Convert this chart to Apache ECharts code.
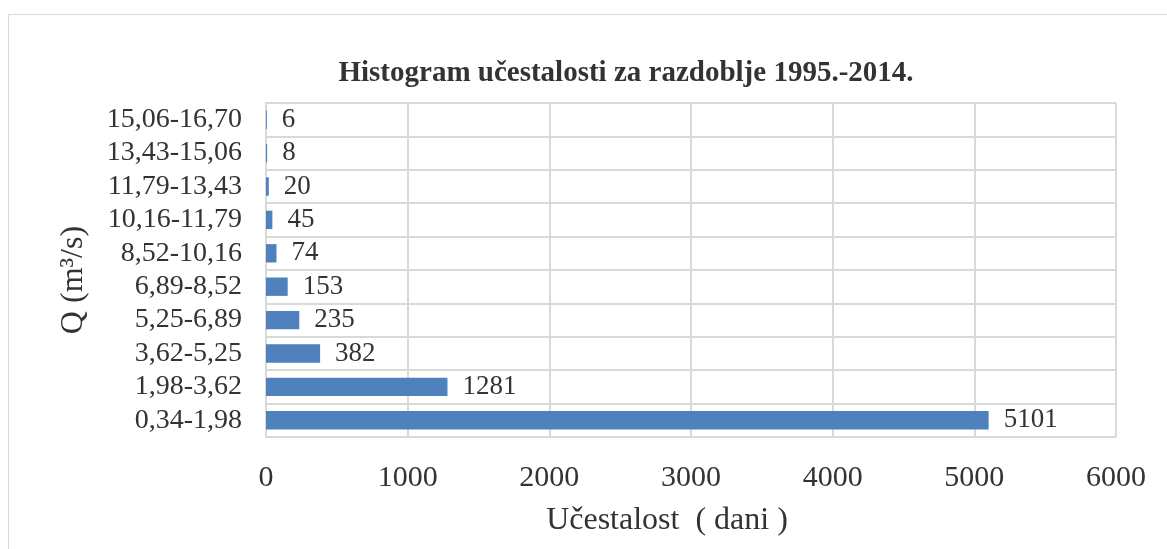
<!DOCTYPE html>
<html>
<head>
<meta charset="utf-8">
<script src="https://cdn.jsdelivr.net/npm/echarts@6/dist/echarts.min.js"></script>
<style>
  html, body { margin: 0; padding: 0; background: #fff; }
  #chart { width: 1167px; height: 549px; }
</style>
</head>
<body>
<div id="chart"></div>
<script>
  // histogram classes (bottom to top)
  var classes = ['0,34-1,98', '1,98-3,62', '3,62-5,25', '5,25-6,89', '6,89-8,52',
                 '8,52-10,16', '10,16-11,79', '11,79-13,43', '13,43-15,06', '15,06-16,70'];
  var days = [5101, 1281, 382, 235, 153, 74, 45, 20, 8, 6];

  var font = '"Liberation Serif", "Times New Roman", serif';
  var textColor = '#333333';
  var gridColor = '#d9d9d9';

  var chart = echarts.init(document.getElementById('chart'));

  chart.setOption({
    animation: false,
    textStyle: { fontFamily: font },
    title: {
      text: 'Histogram učestalosti za razdoblje 1995.-2014.',
      left: 621,
      top: 54,
      textAlign: 'center',
      textStyle: { fontFamily: font, fontSize: 29, fontWeight: 'bold', color: '#333333' }
    },
    graphic: [{
      type: 'rect',
      shape: { x: 8.5, y: 14.5, width: 1200, height: 600 },
      style: { fill: 'none', stroke: '#d9d9d9', lineWidth: 1 },
      silent: true
    }],
    grid: { left: 266, right: 51, top: 103, bottom: 112 },
    xAxis: {
      type: 'value',
      min: 0,
      max: 6000,
      interval: 1000,
      name: 'Učestalost  ( dani )',
      nameLocation: 'middle',
      nameGap: 68,
      nameTextStyle: { fontFamily: font, fontSize: 32, color: textColor, padding: [0, 48, 0, 0] },
      axisLine: { show: false },
      axisTick: { show: false },
      axisLabel: {
        margin: 26, fontSize: 30, color: textColor, fontFamily: font,
        formatter: function (v) { return String(v); }
      },
      splitLine: { lineStyle: { color: gridColor, width: 2 } }
    },
    yAxis: {
      type: 'category',
      data: classes,
      name: 'Q (m³/s)',
      nameLocation: 'middle',
      nameRotate: 90,
      nameGap: 176,
      nameTextStyle: { fontFamily: font, fontSize: 32, color: textColor, padding: [0, 20, 0, 0] },
      axisLine: { show: true, lineStyle: { color: gridColor, width: 2 } },
      axisTick: { show: false },
      axisLabel: { interval: 0, margin: 24, fontSize: 28, color: textColor, fontFamily: font },
      splitLine: { show: true, interval: 0, lineStyle: { color: gridColor, width: 2 } }
    },
    series: [{
      type: 'bar',
      data: days,
      barCategoryGap: '45%',
      itemStyle: { color: '#4F81BD' },
      label: {
        show: true,
        position: 'right',
        distance: 15,
        fontFamily: font,
        fontSize: 27,
        color: textColor
      }
    }]
  });
</script>
</body>
</html>
